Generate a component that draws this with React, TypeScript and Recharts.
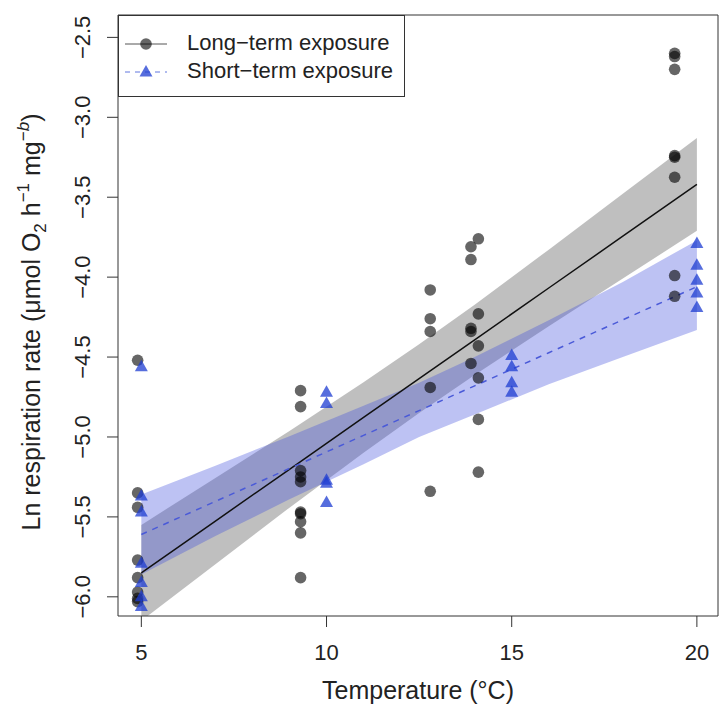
import React from "react";
import {
  ComposedChart,
  Area,
  Line,
  Scatter,
  XAxis,
  YAxis,
  ReferenceArea,
  Legend,
} from "recharts";

// fitted lines and confidence bands
const bandTemp = [5, 7, 9, 11, 12.5, 14, 16, 18, 20];
const longFit = [-5.85, -5.526, -5.202, -4.878, -4.635, -4.392, -4.068, -3.744, -3.42];
const longUpper = [-5.55, -5.256, -4.962, -4.658, -4.42, -4.172, -3.828, -3.479, -3.13];
const longLower = [-6.15, -5.796, -5.442, -5.098, -4.85, -4.612, -4.308, -4.009, -3.71];
const shortFit = [-5.61, -5.403, -5.197, -4.99, -4.835, -4.68, -4.473, -4.267, -4.06];
const shortUpper = [-5.36, -5.18, -4.995, -4.805, -4.66, -4.5, -4.27, -4.03, -3.77];
const shortLower = [-5.86, -5.62, -5.39, -5.17, -5.0, -4.86, -4.67, -4.5, -4.33];

// observations
const longTemp = [
  4.9, 4.9, 4.9, 4.9, 4.9, 4.9, 4.9, 4.9,
  9.3, 9.3, 9.3, 9.3, 9.3, 9.3, 9.3, 9.3, 9.3, 9.3,
  12.8, 12.8, 12.8, 12.8, 12.8,
  13.9, 13.9, 13.9, 13.9, 13.9,
  14.1, 14.1, 14.1, 14.1, 14.1, 14.1,
  19.4, 19.4, 19.4, 19.4, 19.4, 19.4, 19.4, 19.4,
];
const longRate = [
  -4.52, -5.35, -5.44, -5.77, -5.88, -5.97, -6.01, -6.03,
  -4.71, -4.81, -5.21, -5.25, -5.28, -5.47, -5.48, -5.53, -5.6, -5.88,
  -4.08, -4.26, -4.34, -4.69, -5.34,
  -3.81, -3.89, -4.32, -4.34, -4.54,
  -3.76, -4.23, -4.43, -4.63, -4.89, -5.22,
  -2.6, -2.62, -2.7, -3.24, -3.25, -3.375, -3.99, -4.12,
];
const shortTemp = [
  5, 5, 5, 5, 5, 5, 5,
  10, 10, 10, 10, 10,
  15, 15, 15, 15,
  20, 20, 20, 20, 20,
];
const shortRate = [
  -4.56, -5.37, -5.47, -5.79, -5.91, -6.0, -6.06,
  -4.72, -4.79, -5.27, -5.29, -5.41,
  -4.49, -4.56, -4.66, -4.72,
  -3.79, -3.925, -4.02, -4.1, -4.19,
];

const xTicks = [5, 10, 15, 20];
const yTicks = [-6, -5.5, -5, -4.5, -4, -3.5, -3, -2.5];

const fitRows = bandTemp.map((x, i) => ({
  x,
  longFit: longFit[i],
  longBand: [longLower[i], longUpper[i]],
  shortFit: shortFit[i],
  shortBand: [shortLower[i], shortUpper[i]],
}));
const longPoints = longTemp.map((x, i) => ({ x, y: longRate[i] }));
const shortPoints = shortTemp.map((x, i) => ({ x, y: shortRate[i] }));

const FONT = "'Liberation Sans', Arial, sans-serif";
const BLUE = "#1e3cd2";

const minus = (v: number) => (v < 0 ? "\u2212" + Math.abs(v).toFixed(1) : v.toFixed(1));

const Triangle = (props: any) => {
  const { cx, cy } = props;
  if (cx == null || cy == null) return null;
  return (
    <polygon
      points={`${cx},${cy - 7} ${cx - 6.5},${cy + 4.5} ${cx + 6.5},${cy + 4.5}`}
      fill={BLUE}
      fillOpacity={0.75}
    />
  );
};

const Dot = (props: any) => {
  const { cx, cy } = props;
  if (cx == null || cy == null) return null;
  return <circle cx={cx} cy={cy} r={5.8} fill="#000" fillOpacity={0.6} />;
};

const XTick = ({ x, payload }: any) => (
  <text x={x} y={660} textAnchor="middle" fontSize={22} fontFamily={FONT} fill="#222">
    {payload.value}
  </text>
);

const YTick = ({ y, payload }: any) => (
  <text
    x={0}
    y={0}
    transform={`translate(90,${y}) rotate(-90)`}
    textAnchor="middle"
    fontSize={22}
    fontFamily={FONT}
    fill="#222"
  >
    {minus(payload.value)}
  </text>
);

const XTitle = () => (
  <text x={418} y={699} textAnchor="middle" fontSize={25} fontFamily={FONT} fill="#222">
    Temperature (°C)
  </text>
);

const YTitle = () => (
  <text
    x={0}
    y={0}
    transform="translate(40,322) rotate(-90)"
    textAnchor="middle"
    fontSize={25}
    fontFamily={FONT}
    fill="#222"
  >
    Ln respiration rate (μmol O
    <tspan fontSize={17} dy={6}>2</tspan>
    <tspan dy={-6}> h</tspan>
    <tspan fontSize={17} dy={-11}>{"\u22121"}</tspan>
    <tspan dy={11}> mg</tspan>
    <tspan fontSize={17} dy={-11}>
      {"\u2212"}
      <tspan fontStyle="italic">b</tspan>
    </tspan>
    <tspan dy={11}>)</tspan>
  </text>
);

const LegendBox = () => (
  <div
    style={{
      width: 287,
      height: 82,
      boxSizing: "border-box",
      border: "1px solid #333",
      background: "#fff",
      position: "relative",
      fontFamily: FONT,
      fontSize: 22,
      color: "#222",
    }}
  >
    <svg width={60} height={80} style={{ position: "absolute", left: 0, top: 0 }}>
      <line x1={6} y1={28} x2={48} y2={28} stroke="#555" strokeWidth={1} />
      <circle cx={27} cy={28} r={5.8} fill="#000" fillOpacity={0.6} />
      <line x1={6} y1={56} x2={48} y2={56} stroke={BLUE} strokeOpacity={0.7} strokeWidth={1} strokeDasharray="5 5" />
      <polygon points="27,49 20.5,60.5 33.5,60.5" fill={BLUE} fillOpacity={0.75} />
    </svg>
    <div style={{ position: "absolute", left: 68, top: 14, lineHeight: "26px", whiteSpace: "nowrap" }}>
      Long{"\u2212"}term exposure
    </div>
    <div style={{ position: "absolute", left: 68, top: 42, lineHeight: "26px", whiteSpace: "nowrap" }}>
      Short{"\u2212"}term exposure
    </div>
  </div>
);

export default function App() {
  return (
    <div style={{ position: "absolute", left: 0, top: 0 }}>
      <ComposedChart
        width={721}
        height={713}
        data={fitRows}
        margin={{ top: 15, right: 3, bottom: 0, left: 0 }}
      >
        <XAxis
          dataKey="x"
          type="number"
          domain={[4.37, 20.57]}
          ticks={xTicks}
          allowDataOverflow
          height={97}
          tickSize={11}
          axisLine={false}
          tickLine={{ stroke: "#333" }}
          tick={<XTick />}
          label={<XTitle />}
        />
        <YAxis
          type="number"
          domain={[-6.12, -2.36]}
          ticks={yTicks}
          allowDataOverflow
          width={118}
          tickSize={11}
          axisLine={false}
          tickLine={{ stroke: "#333" }}
          tick={<YTick />}
          label={<YTitle />}
        />
        <Area
          type="linear"
          dataKey="longBand"
          fill="#808080"
          fillOpacity={0.5}
          stroke="none"
          isAnimationActive={false}
          activeDot={false}
        />
        <Area
          type="linear"
          dataKey="shortBand"
          fill="#4150dc"
          fillOpacity={0.35}
          stroke="none"
          isAnimationActive={false}
          activeDot={false}
        />
        <Line
          type="linear"
          dataKey="longFit"
          stroke="#111"
          strokeWidth={1.5}
          dot={false}
          activeDot={false}
          isAnimationActive={false}
        />
        <Line
          type="linear"
          dataKey="shortFit"
          stroke="#4a5ad8"
          strokeWidth={1.5}
          strokeDasharray="6 6"
          dot={false}
          activeDot={false}
          isAnimationActive={false}
        />
        <Scatter data={longPoints} dataKey="y" shape={<Dot />} isAnimationActive={false} />
        <Scatter data={shortPoints} dataKey="y" shape={<Triangle />} isAnimationActive={false} />
        <ReferenceArea
          x1={4.37}
          x2={20.57}
          y1={-6.12}
          y2={-2.36}
          fill="none"
          stroke="#333"
          strokeWidth={1}
          ifOverflow="visible"
        />
        <Legend
          layout="vertical"
          align="center"
          verticalAlign="middle"
          content={<LegendBox />}
          wrapperStyle={{ left: 118, top: 15, width: 287, height: 82 }}
        />
      </ComposedChart>
    </div>
  );
}
